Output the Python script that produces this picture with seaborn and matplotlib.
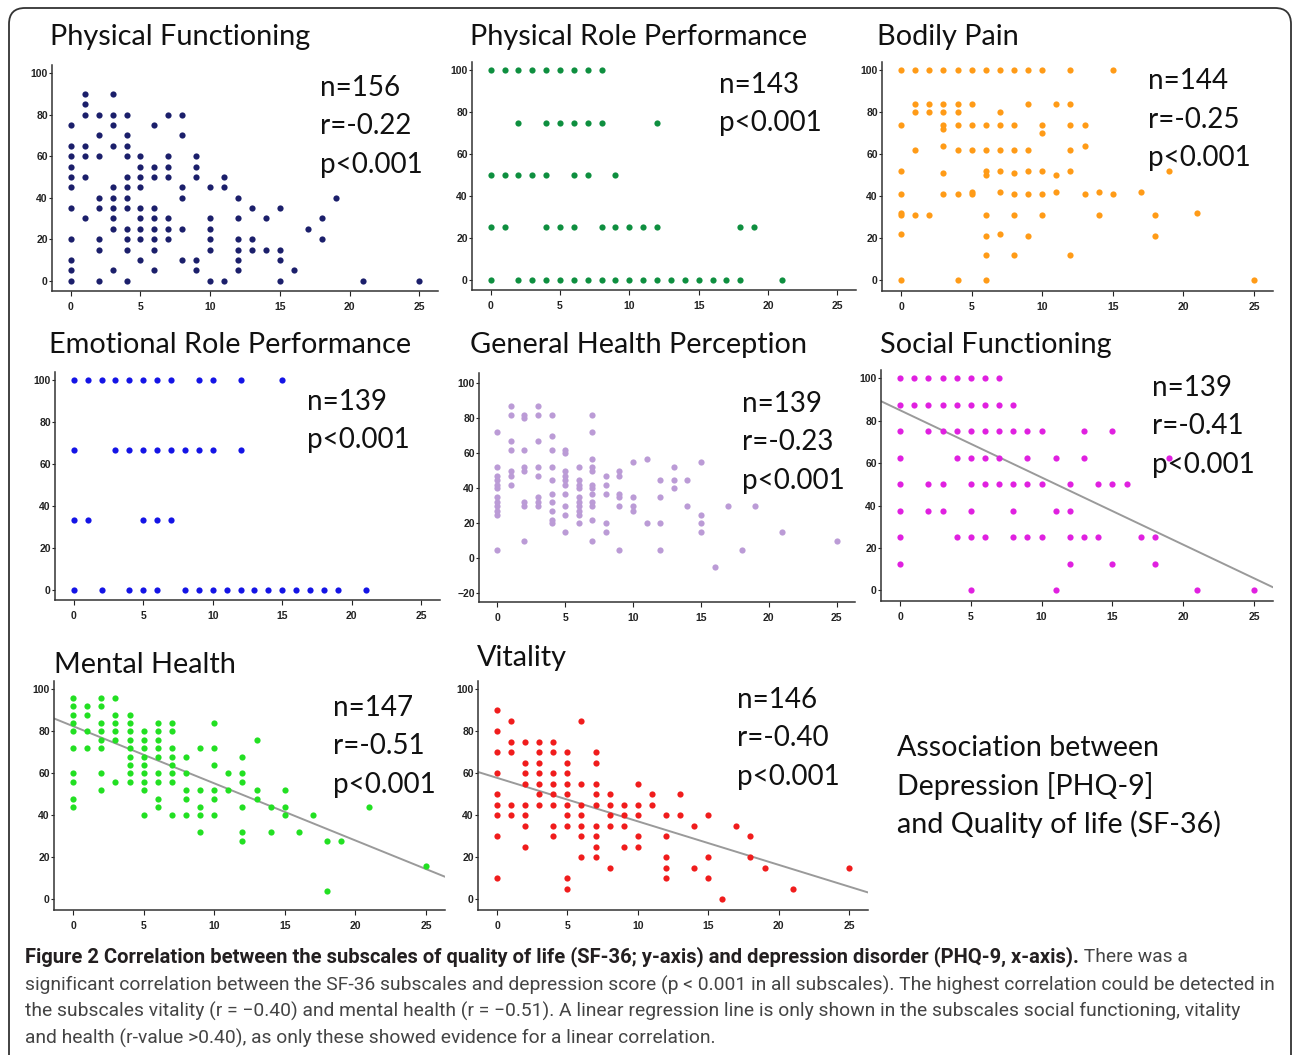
import matplotlib
matplotlib.use("Agg")
import matplotlib.pyplot as plt
import pandas as pd
import seaborn as sns
from matplotlib.patches import FancyBboxPatch
from matplotlib.text import Annotation
from matplotlib.transforms import IdentityTransform

W, H = 1293, 1055

# Werte aus den Streudiagrammen abgelesen
# PHQ-9 score -> SF-36 values
physical_functioning = {
    0: [75, 65, 60, 55, 50, 45, 35, 20, 10, 5, 0],
    1: [90, 85, 80, 65, 60, 50, 30],
    2: [80, 70, 60, 40, 35, 20, 15, 0],
    3: [90, 80, 75, 65, 45, 40, 35, 30, 25, 5],
    4: [80, 70, 65, 60, 50, 45, 40, 35, 25, 20, 15, 0],
    5: [60, 55, 50, 45, 35, 30, 25, 20, 10],
    6: [75, 55, 50, 35, 30, 25, 20, 15, 5],
    7: [80, 60, 55, 50, 30, 25, 20],
    8: [80, 70, 45, 40, 25, 10],
    9: [60, 55, 50, 10, 5],
    10: [45, 30, 25, 20, 15, 0],
    11: [50, 45, 0],
    12: [40, 30, 20, 15, 10, 5],
    13: [35, 20, 15],
    14: [30, 15],
    15: [35, 15, 10, 0],
    16: [5], 17: [25], 18: [30, 20], 19: [40], 21: [0], 25: [0],
}

# SF-36 level -> PHQ-9 scores
role_physical = {
    100: [0, 1, 2, 3, 4, 5, 6, 7, 8],
    75: [2, 4, 5, 6, 7, 8, 12],
    50: [0, 1, 2, 3, 4, 6, 7, 9],
    25: [0, 1, 4, 5, 6, 8, 9, 10, 11, 12, 18, 19],
    0: [0, 2, 3, 4, 5, 6, 7, 8, 9, 10, 11, 12, 13, 14, 15, 16, 17, 18, 21],
}

bodily_pain = {
    100: [0, 1, 2, 3, 4, 5, 6, 7, 8, 9, 10, 12, 15],
    84: [1, 2, 3, 4, 5, 9, 11, 12],
    80: [1, 2, 3, 4, 7],
    74: [0, 3, 4, 5, 6, 7, 8, 10, 12, 13],
    72: [3], 70: [10],
    64: [3, 13],
    62: [1, 4, 5, 6, 7, 8, 9, 12],
    52: [0, 6, 7, 9, 10, 12, 19],
    51: [3, 8],
    50: [6, 11],
    42: [5, 7, 11, 14, 17],
    41: [0, 3, 4, 5, 8, 9, 10, 13, 15],
    32: [0, 21],
    31: [0, 1, 2, 6, 8, 10, 14, 18],
    22: [0, 7],
    21: [6, 9, 18],
    12: [6, 8, 12],
    0: [0, 4, 6, 25],
}

role_emotional = {
    100: [0, 1, 2, 3, 4, 5, 6, 7, 9, 10, 12, 15],
    66.7: [0, 3, 4, 5, 6, 7, 8, 9, 10, 12],
    33.3: [0, 1, 5, 6, 7],
    0: [0, 2, 4, 5, 6, 8, 9, 10, 11, 12, 13, 14, 15, 16, 17, 18, 19, 21],
}

general_health = {
    0: [72, 52, 47, 45, 42, 40, 35, 32, 30, 27, 25, 5],
    1: [87, 82, 67, 62, 50, 47, 42],
    2: [82, 80, 62, 52, 50, 32, 30, 10],
    3: [87, 82, 67, 52, 47, 35, 32, 30],
    4: [82, 70, 62, 52, 45, 37, 32, 27, 22, 20],
    5: [62, 60, 50, 47, 45, 42, 37, 30, 25, 15],
    6: [52, 45, 42, 40, 35, 32, 30, 27, 25, 20],
    7: [82, 72, 57, 52, 50, 42, 40, 37, 32, 30, 22, 10],
    8: [47, 42, 37, 20, 15],
    9: [50, 47, 37, 35, 30, 5],
    10: [55, 35, 30, 27],
    11: [57, 20],
    12: [45, 35, 20, 5],
    13: [52, 45, 40],
    14: [45, 30],
    15: [55, 25, 20, 15],
    16: [-5], 17: [30], 18: [5], 19: [30], 21: [15], 25: [10],
}

social_functioning = {
    100: [0, 1, 2, 3, 4, 5, 6, 7],
    87.5: [0, 1, 2, 3, 4, 5, 6, 7, 8],
    75: [0, 2, 3, 4, 5, 6, 7, 8, 9, 10, 13, 15],
    62.5: [0, 4, 5, 6, 7, 9, 11, 13, 19],
    50: [0, 2, 3, 5, 6, 7, 8, 9, 10, 12, 14, 15, 16],
    37.5: [0, 2, 3, 5, 8, 11, 12],
    25: [0, 4, 5, 6, 8, 9, 10, 12, 13, 14, 17, 18],
    12.5: [0, 12, 15, 18],
    0: [5, 11, 21, 25],
}

mental_health = {
    0: [96, 92, 88, 84, 80, 72, 60, 56, 48, 44],
    1: [92, 88, 80, 72],
    2: [96, 92, 84, 80, 76, 72, 60, 52],
    3: [96, 88, 84, 80, 76, 56],
    4: [88, 84, 80, 76, 72, 68, 64, 60, 56],
    5: [80, 76, 72, 68, 64, 60, 56, 52, 40],
    6: [84, 80, 76, 72, 68, 60, 56, 48, 44],
    7: [84, 80, 72, 68, 64, 60, 56, 40],
    8: [68, 60, 52, 48, 40],
    9: [72, 52, 44, 40, 32],
    10: [84, 72, 64, 52, 48, 40],
    11: [60, 52],
    12: [68, 60, 56, 44, 32, 28],
    13: [76, 52, 48],
    14: [44, 32],
    15: [52, 44, 40],
    16: [32], 17: [40], 18: [28, 4], 19: [28], 21: [44], 25: [16],
}

vitality = {
    0: [90, 80, 70, 60, 50, 45, 40, 30, 10],
    1: [85, 75, 70, 45, 40],
    2: [75, 65, 60, 55, 45, 40, 35, 25],
    3: [75, 70, 65, 60, 55, 50, 45],
    4: [75, 70, 60, 55, 50, 45, 35, 30],
    5: [70, 65, 60, 55, 50, 45, 40, 35, 10, 5],
    6: [85, 55, 45, 40, 35, 30, 20],
    7: [70, 65, 55, 50, 45, 35, 30, 25, 20],
    8: [50, 45, 40, 35, 15],
    9: [45, 40, 35, 25],
    10: [55, 45, 40, 30, 25],
    11: [50, 45],
    12: [40, 30, 20, 15, 10],
    13: [50, 40],
    14: [35, 15],
    15: [40, 20, 10],
    16: [0], 17: [35], 18: [30, 20], 19: [15], 21: [5], 25: [15],
}

# regression lines as drawn in the figure (intercept, slope), None = no line
fit_lines = [None, None, None, None, None, (85.0, -3.17), (82.5, -2.72), (57.9, -2.07)]

titles = ["Physical Functioning", "Physical Role Performance", "Bodily Pain",
          "Emotional Role Performance", "General Health Perception", "Social Functioning",
          "Mental Health", "Vitality"]
stats = [["n=156", "r=-0.22", "p<0.001"], ["n=143", "p<0.001"],
         ["n=144", "r=-0.25", "p<0.001"], ["n=139", "p<0.001"],
         ["n=139", "r=-0.23", "p<0.001"], ["n=139", "r=-0.41", "p<0.001"],
         ["n=147", "r=-0.51", "p<0.001"], ["n=146", "r=-0.40", "p<0.001"]]
note_lines = ["Association between", "Depression [PHQ-9]", "and Quality of life (SF-36)"]

caption_bold = ("Figure 2 Correlation between the subscales of quality of life "
                "(SF-36; y-axis) and depression disorder (PHQ-9, x-axis).")
caption_lines = [
    " There was a",
    "significant correlation between the SF-36 subscales and depression score "
    "(p < 0.001 in all subscales). The highest correlation could be detected in",
    "the subscales vitality (r = \u22120.40) and mental health (r = \u22120.51). "
    "A linear regression line is only shown in the subscales social functioning, vitality",
    "and health (r-value >0.40), as only these showed evidence for a linear correlation.",
]


def by_score(d):
    return pd.DataFrame([(x, y) for x, ys in d.items() for y in ys], columns=["phq9", "sf36"])


def by_level(d):
    return pd.DataFrame([(x, y) for y, xs in d.items() for x in xs], columns=["phq9", "sf36"])


frames = [by_score(physical_functioning), by_level(role_physical), by_level(bodily_pain),
          by_level(role_emotional), by_score(general_health), by_level(social_functioning),
          by_score(mental_health), by_score(vitality)]
colors = ["#1b1f6b", "#0e8f3f", "#ff9b17", "#1414e6", "#bb9bd6", "#e020e0", "#22e022", "#f01c1c"]

# layout in pixels: axes box (left, right, top, bottom), title pos, stats pos
boxes = [(52, 438, 65, 291), (472, 856, 62, 290), (882, 1273, 62, 291),
         (55, 440, 372, 600), (479, 855, 373, 602), (881, 1273, 370, 601),
         (54, 445, 681, 910), (478, 868, 681, 910)]
title_pos = [(50, 37), (470, 37), (877, 37), (49, 345), (470, 345), (880, 345),
             (54, 665), (477, 658)]
stats_pos = [(320, 88), (719, 85), (1148, 81), (307, 402), (742, 404), (1152, 388),
             (333, 708), (737, 700)]


def px(x, y):
    return x / W, 1 - y / H


sns.set_theme(style="ticks")
plt.rcParams["font.family"] = ["Lato", "DejaVu Sans"]

fig = plt.figure(figsize=(W / 100, H / 100), dpi=100)

for i, df in enumerate(frames):
    l, r, t, b = boxes[i]
    ax = fig.add_axes([l / W, 1 - b / H, (r - l) / W, (b - t) / H])
    ax.set_facecolor("none")
    sns.scatterplot(data=df, x="phq9", y="sf36", color=colors[i], s=20,
                    linewidth=0, ax=ax, zorder=3)
    ax.set_xlim(-1.35, 26.35)
    if i == 4:
        ax.set_ylim(-25, 106)
        ax.set_yticks(range(-20, 101, 20))
    else:
        ax.set_ylim(-5, 104)
        ax.set_yticks(range(0, 101, 20))
    if fit_lines[i] is not None:
        a, m = fit_lines[i]
        ax.axline((0, a), slope=m, color="#9a9a9a", lw=1.4, zorder=2)
    ax.set_xticks(range(0, 26, 5))
    ax.set_xlabel("")
    ax.set_ylabel("")
    sns.despine(ax=ax)
    for sp in ["left", "bottom"]:
        ax.spines[sp].set_linewidth(1.1)
        ax.spines[sp].set_color("#333333")
    ax.tick_params(axis="x", length=3.5, width=0.8, pad=4.5, labelsize=7.5, colors="#222222")
    ax.tick_params(axis="y", length=2, width=0.8, pad=1, labelsize=7.5, colors="#222222")
    for lbl in ax.get_xticklabels() + ax.get_yticklabels():
        lbl.set_fontfamily("Liberation Sans")
        lbl.set_fontweight("bold")

    fig.text(*px(*title_pos[i]), titles[i], fontsize=20.8, va="center", ha="left", color="#111111")
    sx, sy = stats_pos[i]
    for k, s in enumerate(stats[i]):
        fig.text(*px(sx, sy + k * 38.5), s, fontsize=20, va="center", ha="left", color="#111111")

for k, s in enumerate(note_lines):
    fig.text(*px(897, 748 + k * 38), s, fontsize=20.6, va="center", ha="left", color="#111111")

# caption
cap_font = ["Roboto", "DejaVu Sans"]
bold = fig.text(*px(25, 967), caption_bold, fontsize=14.5, fontweight="bold",
                family=cap_font, va="bottom", ha="left", color="#231f20")
rest = Annotation(caption_lines[0], xy=(1, 0.05), xycoords=bold, va="bottom", ha="left",
                  fontsize=13.9, family=cap_font, color="#444444")
fig.add_artist(rest)
for k, s in enumerate(caption_lines[1:]):
    fig.text(*px(25, 985 + 26.7 * k), s, fontsize=13.9, family=cap_font,
             va="center", ha="left", color="#444444")

# rounded frame
frame = FancyBboxPatch((9, -30), 1282, H - 8 + 30, boxstyle="round,pad=0,rounding_size=16",
                       transform=IdentityTransform(), fill=False, edgecolor="#333333", lw=1.3)
fig.add_artist(frame)

fig.savefig("out.png", dpi=100)
